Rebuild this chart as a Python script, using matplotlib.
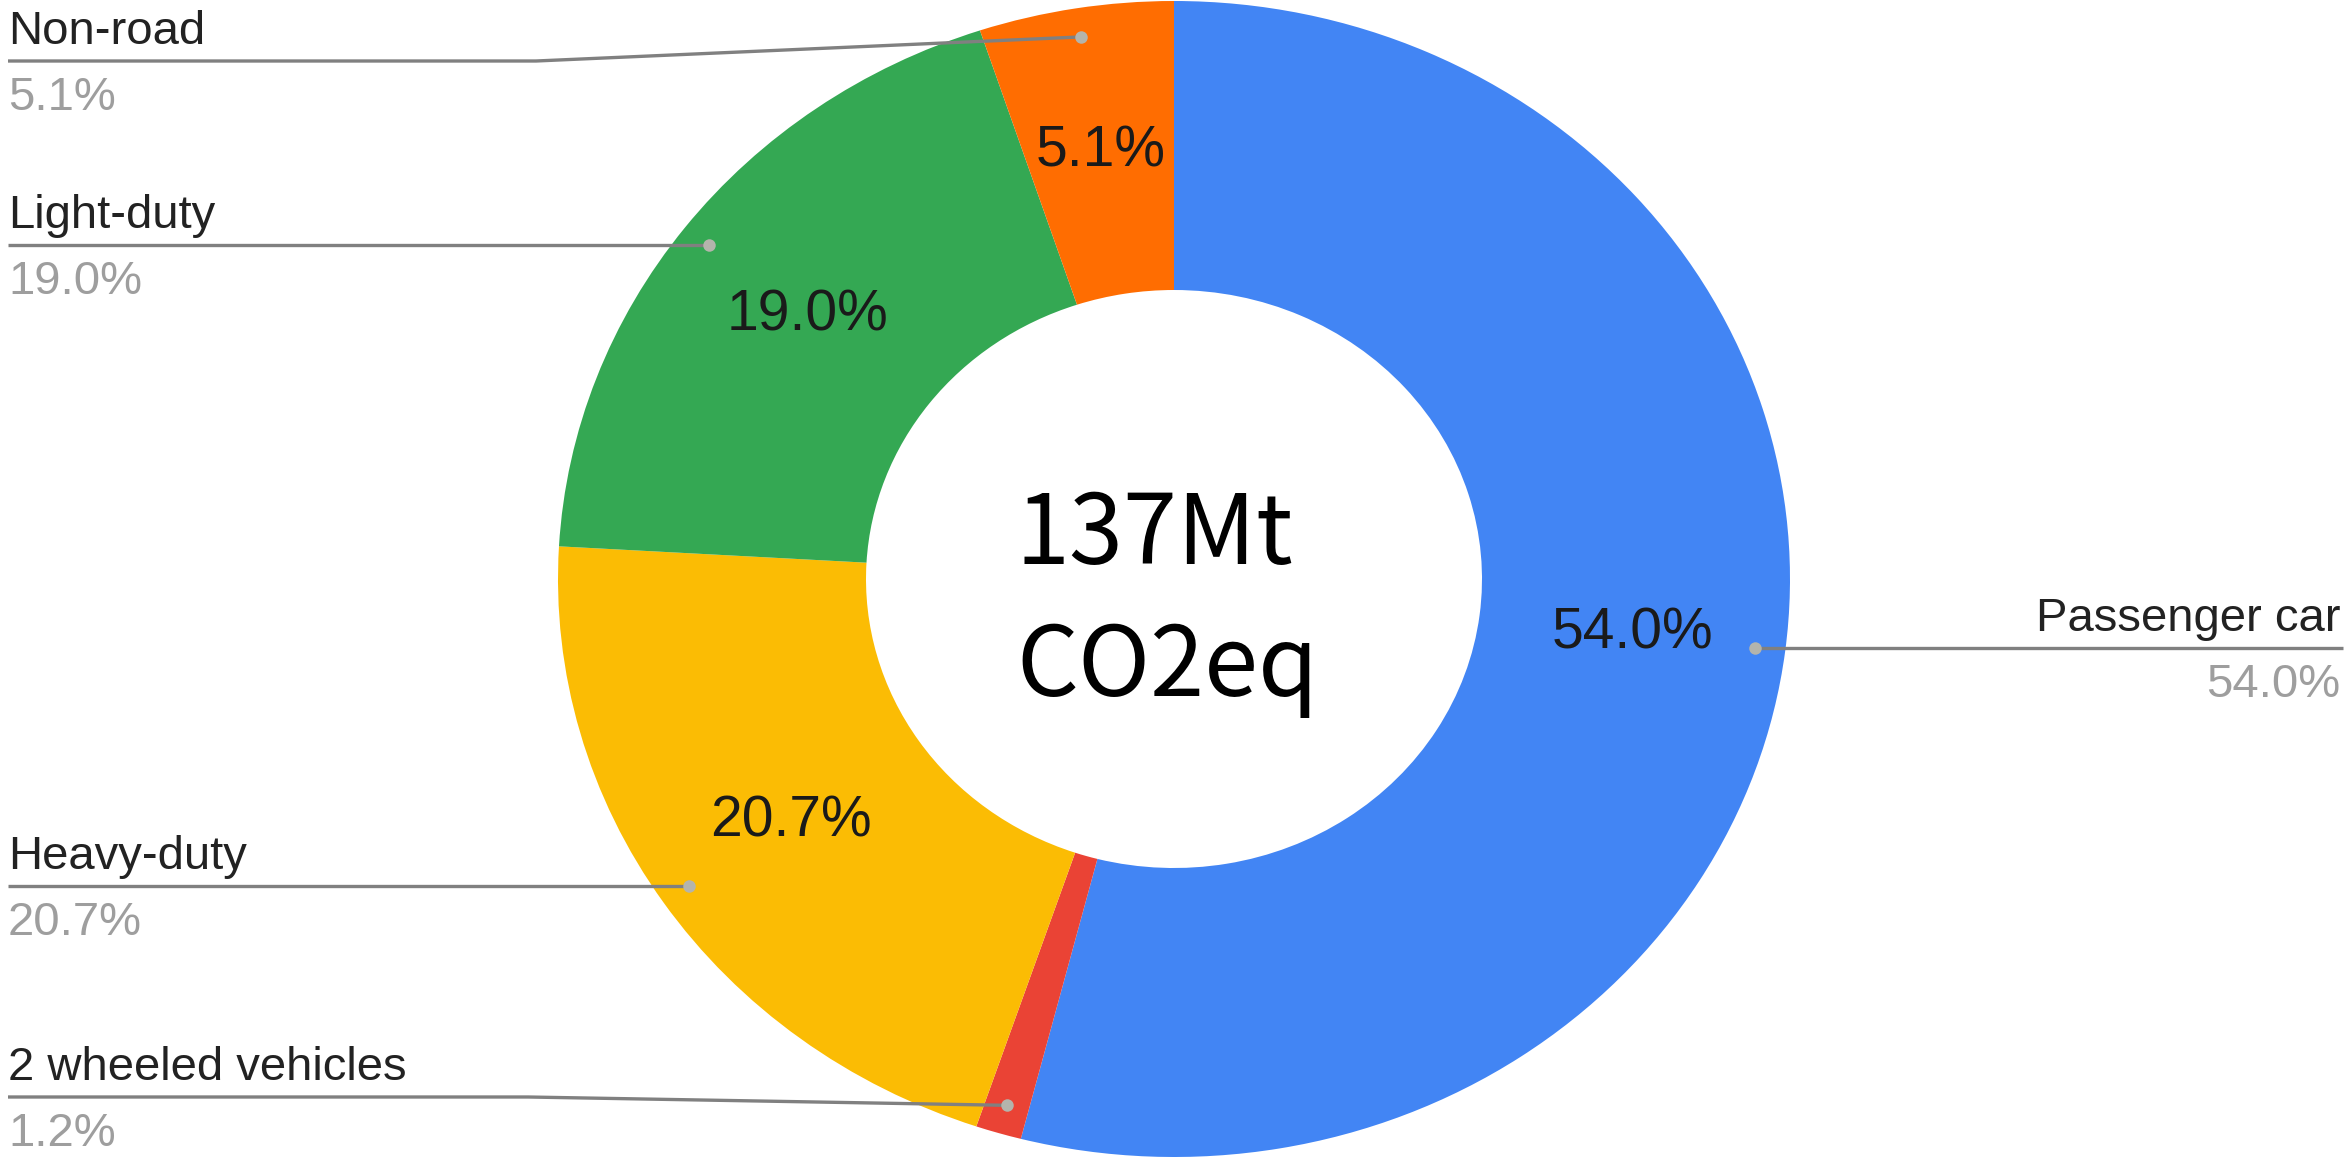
import numpy as np
import matplotlib
matplotlib.use('Agg')
import matplotlib.pyplot as plt

# ---- data ----
categories = ['Passenger car', '2 wheeled vehicles', 'Heavy-duty', 'Light-duty', 'Non-road']
values = [54.0, 1.2, 20.7, 19.0, 5.1]
colors = ['#4285F4', '#EA4335', '#FBBC04', '#34A853', '#FF6D01']
center_lines = ['137Mt', 'CO2eq']

# ---- layout (pixels) ----
W, H = 2350, 1157
# per-category: side, label line y (None = use dot y), bend x (None = straight)
label_layout = {
    'Passenger car': ('right', None, None),
    '2 wheeled vehicles': ('left', 1097, 528),
    'Heavy-duty': ('left', None, None),
    'Light-duty': ('left', None, None),
    'Non-road': ('left', 61, 536),
}

fig = plt.figure(figsize=(W / 100, H / 100), dpi=100)
ax = fig.add_axes([(1174 - 616) / W, 0.0, 1232 / W, 1156 / H])

wedges, texts, autotexts = ax.pie(
    values, colors=colors, startangle=90, counterclock=False, radius=1.0,
    wedgeprops=dict(width=0.5, linewidth=0),
    autopct=lambda p: f'{p:.1f}%' if p >= 2 else '', pctdistance=0.75,
    textprops=dict(fontsize=41, color='#1a1a1a', family='Liberation Sans'))
ax.set_aspect('auto')
ax.set_xlim(-1, 1)
ax.set_ylim(-1, 1)
ax.axis('off')

# overlay in pixel coordinates
ov = fig.add_axes([0, 0, 1, 1], zorder=5)
ov.set_xlim(0, W)
ov.set_ylim(H, 0)
ov.axis('off')
ov.patch.set_alpha(0)

to_ov = ov.transData.inverted()
line_col = '#808080'
dot_col = '#b4b4ac'
gray_txt = '#9e9e9e'
lab_fs = 34

for w, cat, val in zip(wedges, categories, values):
    mid = np.deg2rad((w.theta1 + w.theta2) / 2)
    px = ax.transData.transform((0.95 * np.cos(mid), 0.95 * np.sin(mid)))
    dx, dy = to_ov.transform(px)
    side, ly, bend = label_layout[cat]
    if ly is None:
        ly = dy
    if side == 'left':
        xs = [8]
        ys = [ly]
        if bend is not None:
            xs.append(bend)
            ys.append(ly)
        xs.append(dx)
        ys.append(dy)
        tx, ha = 8, 'left'
    else:
        xs = [dx, 2343]
        ys = [dy, ly]
        tx, ha = 2340, 'right'
    ov.plot(xs, ys, color=line_col, lw=2.4, solid_capstyle='butt', zorder=3)
    ov.plot([dx], [dy], 'o', ms=9, color=dot_col, mec='none', zorder=4)
    ov.text(tx, ly - 17, cat, fontsize=lab_fs, color='#222222', ha=ha, va='baseline',
            family='Liberation Sans')
    ov.text(tx, ly + 49, f'{val:.1f}%', fontsize=lab_fs, color=gray_txt, ha=ha, va='baseline',
            family='Liberation Sans')

# centre text
ov.text(1016, 564, center_lines[0], fontsize=70, color='black', ha='left', va='baseline',
        family='Noto Sans CJK JP')
ov.text(1016, 696, center_lines[1], fontsize=70, color='black', ha='left', va='baseline',
        family='Noto Sans CJK JP')

fig.savefig('out.png', dpi=100, facecolor='white')
